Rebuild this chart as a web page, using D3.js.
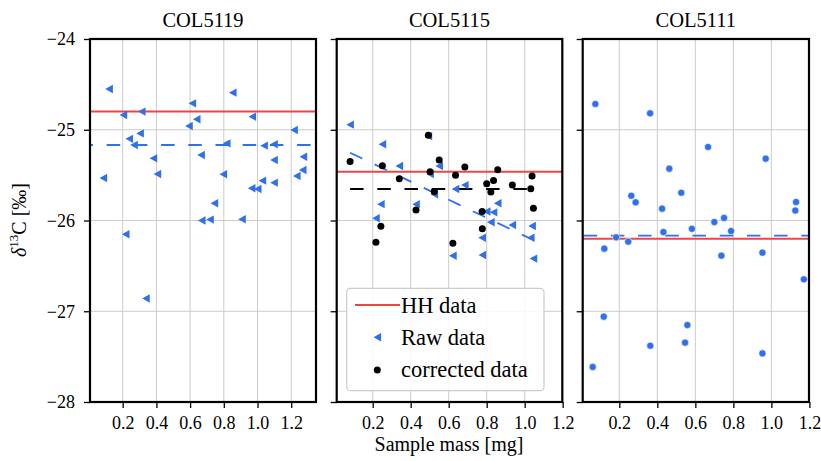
<!DOCTYPE html>
<html><head><meta charset="utf-8">
<script src="https://cdn.jsdelivr.net/npm/d3@7"></script>
<style>body{margin:0;background:#fff} text{font-family:"Liberation Serif",serif;fill:#000}</style>
</head><body><svg id="c" width="821" height="461"></svg>
<script>
// ---------- data ----------
const titles = ["COL5119", "COL5115", "COL5111"];
const xTicks = [0.2, 0.4, 0.6, 0.8, 1.0, 1.2];
const yTicks = [-24, -25, -26, -27, -28];
const legendLabels = ["HH data", "Raw data", "corrected data"];

const col5119Mass = [0.119,0.085,0.204,0.313,0.239,0.267,0.303,0.382,0.406,0.613,0.593,0.639,0.665,0.853,0.817,0.797,0.744,0.669,0.718,0.908,0.969,0.965,1.001,1.039,1.029,1.098,1.098,1.098,1.217,1.233,1.272,1.268,0.218,0.338];
const col5119Raw  = [-24.551,-25.532,-24.837,-24.80,-25.10,-25.168,-25.04,-25.315,-25.488,-24.709,-24.959,-24.885,-25.278,-24.591,-25.15,-25.49,-25.81,-26.00,-25.99,-25.987,-24.856,-25.645,-25.653,-25.175,-25.561,-25.16,-25.333,-25.583,-25.003,-25.51,-25.297,-25.444,-26.152,-26.86];
const col5119Mean = -25.168;

const col5115Mass = [0.081,0.217,0.243,0.251,0.34,0.428,0.493,0.502,0.524,0.550,0.622,0.636,0.685,0.776,0.777,0.80,0.822,0.836,0.858,0.935,1.032,1.039,1.046];
const col5115Raw  = [-24.944,-25.976,-25.82,-25.16,-25.40,-25.82,-25.07,-25.488,-25.71,-25.40,-26.388,-25.653,-25.61,-26.19,-26.38,-25.90,-26.02,-25.91,-25.81,-26.05,-26.19,-26.06,-26.42];
const col5115Corr = [-25.35,-26.24,-26.064,-25.396,-25.54,-25.884,-25.06,-25.462,-25.68,-25.333,-26.25,-25.50,-25.41,-25.90,-26.09,-25.594,-25.686,-25.56,-25.44,-25.61,-25.65,-25.51,-25.866];
const col5115FitMass = [0.081, 1.045];
const col5115FitRaw  = [-25.253, -26.215];
const col5115CorrMean = -25.653;

const col5111Mass = [0.074,0.362,0.667,0.970,0.463,0.526,0.263,0.286,0.425,1.13,1.126,0.70,0.751,0.582,0.432,0.788,0.183,0.247,0.121,0.737,0.953,1.171,0.118,0.558,0.546,0.363,0.953,0.06];
const col5111Vals = [-24.716,-24.819,-25.19,-25.319,-25.429,-25.694,-25.727,-25.80,-25.87,-25.796,-25.89,-26.017,-25.972,-26.092,-26.127,-26.116,-26.185,-26.233,-26.31,-26.388,-26.355,-26.648,-27.06,-27.152,-27.346,-27.38,-27.464,-27.614];
const col5111Mean = -26.167;

const hhValues = [-24.80, -25.462, -26.20];

// ---------- layout ----------
const BLUE = "#3070e8", RED = "#ee4646";
const svg = d3.select("#c");
const yTop = 39, yBot = 402;
const y = d3.scaleLinear().domain([-28, -24]).range([yBot, yTop]);
const panels = [
  {left: 90, right: 316, dom: [0.006, 1.347]},
  {left: 336.7, right: 562.3, dom: [0.0105, 1.198]},
  {left: 582.7, right: 809, dom: [0.0074, 1.198]}
];
const triPath = "M-3.8,0L3.8,-4.2L3.8,4.2Z";

panels.forEach((p, i) => {
  const x = d3.scaleLinear().domain(p.dom).range([p.left, p.right]);
  const g = svg.append("g");
  g.selectAll(".gx").data(xTicks).join("line")
    .attr("x1", d => x(d)).attr("x2", d => x(d)).attr("y1", yTop).attr("y2", yBot)
    .attr("stroke", "#cccccc").attr("stroke-width", 1);
  g.selectAll(".gy").data(yTicks).join("line")
    .attr("x1", p.left).attr("x2", p.right).attr("y1", d => y(d)).attr("y2", d => y(d))
    .attr("stroke", "#cccccc").attr("stroke-width", 1);

  const clip = "clip" + i;
  svg.append("clipPath").attr("id", clip).append("rect")
    .attr("x", p.left).attr("y", yTop).attr("width", p.right - p.left).attr("height", yBot - yTop);
  const pg = g.append("g").attr("clip-path", `url(#${clip})`);

  const line = d3.line().x(d => x(d[0])).y(d => y(d[1]));

  if (i === 0) {
    pg.append("line").attr("x1", p.left).attr("x2", p.right)
      .attr("y1", y(col5119Mean)).attr("y2", y(col5119Mean))
      .attr("stroke", BLUE).attr("stroke-width", 1.8).attr("stroke-dasharray", "13.5,13.7").attr("stroke-dashoffset", 10.5);
    pg.append("line").attr("x1", p.left).attr("x2", p.right)
      .attr("y1", y(hhValues[0])).attr("y2", y(hhValues[0]))
      .attr("stroke", RED).attr("stroke-width", 2);
    pg.selectAll(".t").data(d3.zip(col5119Mass, col5119Raw)).join("path")
      .attr("d", triPath).attr("fill", BLUE)
      .attr("transform", d => `translate(${x(d[0])},${y(d[1])})`);
  } else if (i === 1) {
    pg.append("path").datum(d3.zip(col5115FitMass, col5115FitRaw)).attr("d", line)
      .attr("fill", "none").attr("stroke", BLUE).attr("stroke-width", 1.8).attr("stroke-dasharray", "13.5,13.7");
    pg.append("path").datum(d3.zip(col5115FitMass, [col5115CorrMean, col5115CorrMean])).attr("d", line)
      .attr("fill", "none").attr("stroke", "#000").attr("stroke-width", 1.8).attr("stroke-dasharray", "13.5,13.7");
    pg.append("line").attr("x1", p.left).attr("x2", p.right)
      .attr("y1", y(hhValues[1])).attr("y2", y(hhValues[1]))
      .attr("stroke", RED).attr("stroke-width", 2);
    pg.selectAll(".t").data(d3.zip(col5115Mass, col5115Raw)).join("path")
      .attr("d", triPath).attr("fill", BLUE)
      .attr("transform", d => `translate(${x(d[0])},${y(d[1])})`);
    pg.selectAll(".c").data(d3.zip(col5115Mass, col5115Corr)).join("circle")
      .attr("cx", d => x(d[0])).attr("cy", d => y(d[1])).attr("r", 3.5).attr("fill", "#000");
  } else {
    pg.append("line").attr("x1", p.left).attr("x2", p.right)
      .attr("y1", y(col5111Mean)).attr("y2", y(col5111Mean))
      .attr("stroke", BLUE).attr("stroke-width", 1.8).attr("stroke-dasharray", "13.5,13.7").attr("stroke-dashoffset", -1);
    pg.append("line").attr("x1", p.left).attr("x2", p.right)
      .attr("y1", y(hhValues[2])).attr("y2", y(hhValues[2]))
      .attr("stroke", RED).attr("stroke-width", 2);
    pg.selectAll(".c").data(d3.zip(col5111Mass, col5111Vals)).join("circle")
      .attr("cx", d => x(d[0])).attr("cy", d => y(d[1])).attr("r", 3.6)
      .attr("fill", BLUE).attr("stroke", "#fff").attr("stroke-width", 0.6);
  }

  g.append("rect").attr("x", p.left).attr("y", yTop).attr("width", p.right - p.left).attr("height", yBot - yTop)
    .attr("fill", "none").attr("stroke", "#000").attr("stroke-width", 2.2);

  const xa = g.append("g").attr("transform", `translate(0,${yBot})`)
    .call(d3.axisBottom(x).tickValues(xTicks).tickSize(6).tickPadding(8).tickFormat(d3.format(".1f")));
  xa.select(".domain").remove();
  xa.selectAll("line").attr("stroke", "#000").attr("stroke-width", 1.3);
  xa.selectAll("text").attr("font-size", 18).attr("font-family", "Liberation Serif");

  const ya = g.append("g").attr("transform", `translate(${p.left},0)`)
    .call(d3.axisLeft(y).tickValues(yTicks).tickSize(6).tickPadding(9).tickFormat(d3.format("d")));
  ya.select(".domain").remove();
  ya.selectAll("line").attr("stroke", "#000").attr("stroke-width", 1.3);
  ya.selectAll("text").attr("font-size", 18).attr("font-family", "Liberation Serif");
  if (i > 0) ya.selectAll("text").remove();

  svg.append("text").attr("x", (p.left + p.right) / 2).attr("y", 27).attr("text-anchor", "middle")
    .attr("font-size", 20.5).text(titles[i]);

  if (i === 1) {
    const lg = svg.append("g");
    lg.append("rect").attr("x", 346.7).attr("y", 288.3).attr("width", 197.3).attr("height", 102.4).attr("rx", 4)
      .attr("fill", "#fff").attr("fill-opacity", 0.85).attr("stroke", "#cccccc").attr("stroke-width", 1.2);
    lg.append("line").attr("x1", 355).attr("x2", 400).attr("y1", 305).attr("y2", 305)
      .attr("stroke", RED).attr("stroke-width", 2);
    lg.append("path").attr("d", triPath).attr("fill", BLUE).attr("transform", "translate(377.3,337.3)");
    lg.append("circle").attr("cx", 377.3).attr("cy", 370).attr("r", 3.5).attr("fill", "#000");
    const ys = [312.7, 345, 377];
    lg.selectAll(".lt").data(legendLabels).join("text")
      .attr("x", 401).attr("y", (d, k) => ys[k]).attr("font-size", 22.5).text(d => d);
  }
});

svg.append("text").attr("x", 449).attr("y", 451).attr("text-anchor", "middle").attr("font-size", 20)
  .text("Sample mass [mg]");
const yl = svg.append("text").attr("transform", "translate(26,220) rotate(-90)").attr("text-anchor", "middle").attr("font-size", 20);
yl.append("tspan").attr("font-style", "italic").text("δ");
yl.append("tspan").attr("font-size", 13).attr("dy", -8).text("13");
yl.append("tspan").attr("dy", 8).text("C [‰]");
</script></body></html>
